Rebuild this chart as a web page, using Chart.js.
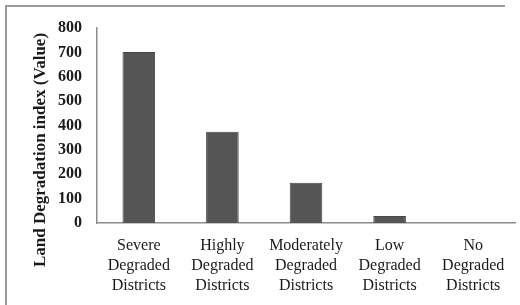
<!DOCTYPE html>
<html>
<head>
<meta charset="utf-8">
<script src="https://cdn.jsdelivr.net/npm/chart.js@4"></script>
<style>
  html, body { margin: 0; padding: 0; background: #fff; overflow: hidden; }
  #wrap { position: absolute; left: 0; top: 0; width: 520px; height: 305px; }
</style>
</head>
<body>
<div id="wrap"><canvas id="chart" width="520" height="305"></canvas></div>
<script>
// Land degradation by district class
const categories = [
    ['Severe', 'Degraded', 'Districts'],
    ['Highly', 'Degraded', 'Districts'],
    ['Moderately', 'Degraded', 'Districts'],
    ['Low', 'Degraded', 'Districts'],
    ['No', 'Degraded', 'Districts']
];
const values = [702, 374, 165, 29, 0];
const yTitle = 'Land Degradation index (Value)';

const serif = '"Liberation Serif", "DejaVu Serif", serif';

// outer frame (only top and left edges show in the original) + y title
const decorPlugin = {
    id: 'decor',
    beforeDraw(chart) {
        const ctx = chart.ctx;
        ctx.save();
        ctx.fillStyle = '#9a9a9a';
        ctx.fillRect(5, 5, chart.width - 20, 2);
        ctx.fillRect(5, 5, 2, chart.height - 5);
        ctx.restore();
    },
    afterDraw(chart) {
        const ctx = chart.ctx;
        ctx.save();
        ctx.translate(41, 150);
        ctx.rotate(-Math.PI / 2);
        ctx.font = 'bold 17px ' + serif;
        ctx.fillStyle = '#1a1a1a';
        ctx.textAlign = 'center';
        ctx.textBaseline = 'middle';
        ctx.fillText(yTitle, 0, 0);
        ctx.restore();
    }
};

new Chart(document.getElementById('chart'), {
    type: 'bar',
    data: {
        labels: categories,
        datasets: [{
            data: values,
            backgroundColor: '#555555',
            borderColor: '#474747',
            borderWidth: 1,
            barPercentage: 0.39,
            categoryPercentage: 1
        }]
    },
    options: {
        responsive: false,
        animation: false,
        layout: { padding: { top: 28, right: 5, left: 0, bottom: 0 } },
        plugins: { legend: { display: false }, tooltip: { enabled: false } },
        scales: {
            x: {
                grid: { display: false, drawTicks: false },
                border: { display: true, color: '#8c8c8c', width: 1.5 },
                ticks: {
                    color: '#1a1a1a',
                    font: { family: serif, size: 16, lineHeight: 1.25 },
                    padding: 13,
                    maxRotation: 0,
                    autoSkip: false
                },
                afterFit(scale) { scale.height = 82; }
            },
            y: {
                min: 0,
                max: 800,
                grid: { display: false, drawTicks: false },
                border: { display: true, color: '#8c8c8c', width: 1.5 },
                ticks: {
                    stepSize: 100,
                    color: '#1a1a1a',
                    font: { family: serif, size: 16, weight: 'bold' },
                    padding: 15
                },
                afterFit(scale) { scale.width = 97; }
            }
        }
    },
    plugins: [decorPlugin]
});
</script>
</body>
</html>
